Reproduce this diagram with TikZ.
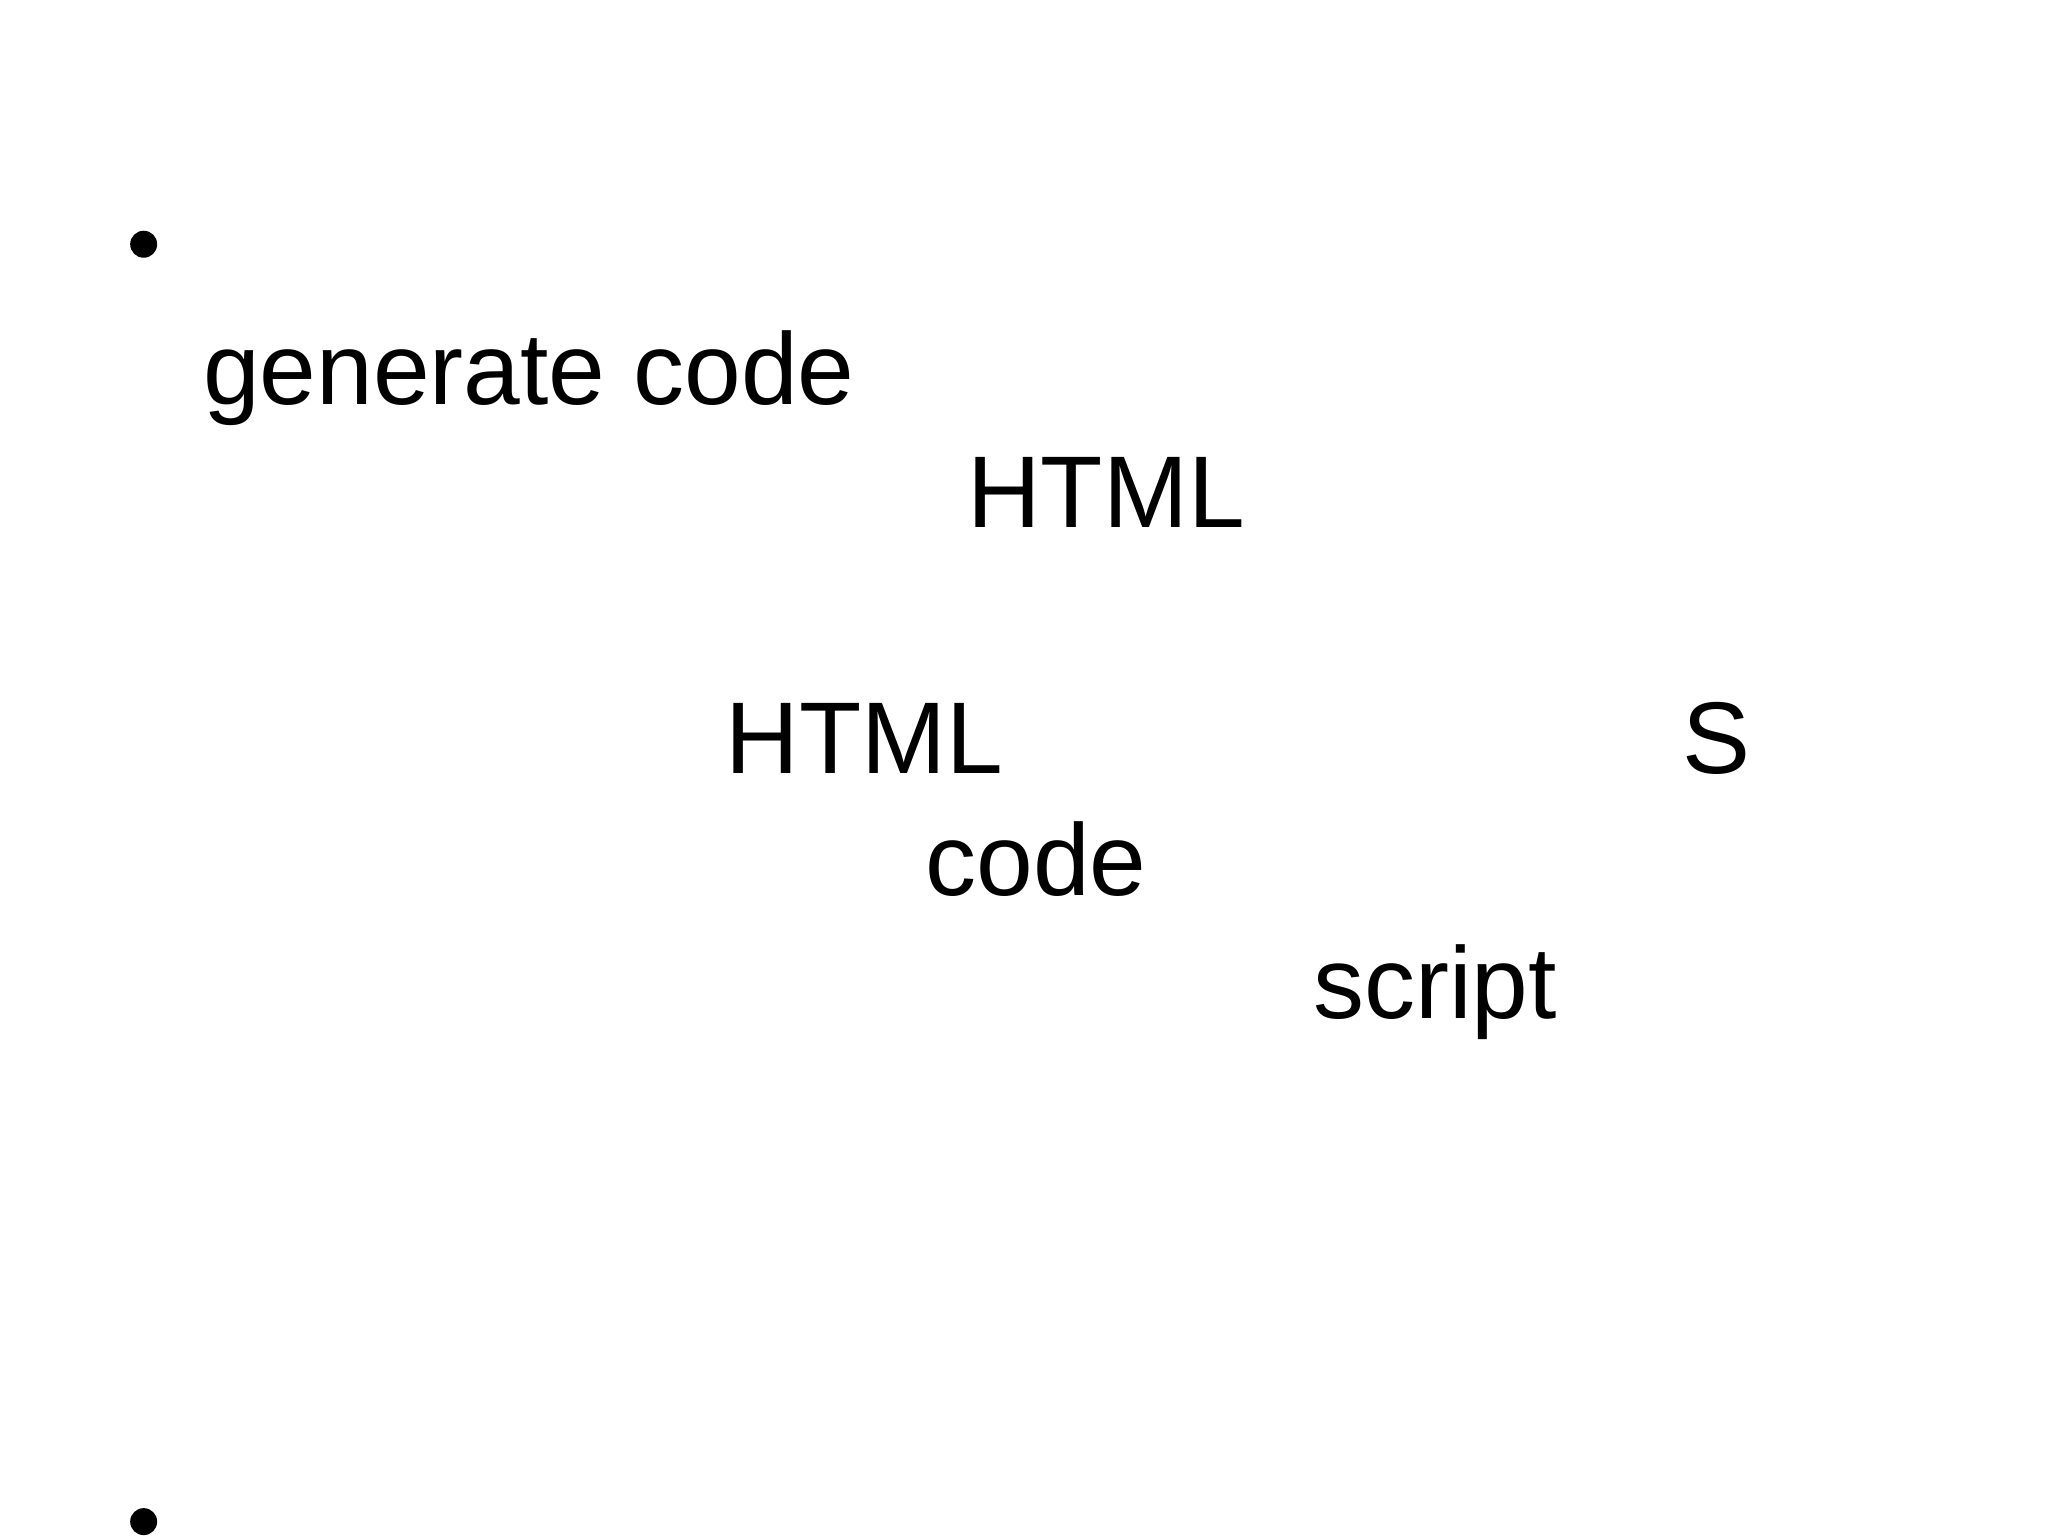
\documentclass[tikz,border=0pt]{standalone}
\usepackage{fontspec}
\setmainfont{Liberation Sans}
\begin{document}
\begin{tikzpicture}[x=0.01306cm,y=-0.01306cm,
  lbl/.style={anchor=base west,inner sep=0pt,font=\fontsize{29}{35}\selectfont},
  bul/.style={circle,fill=black,inner sep=0pt,minimum size=0.27cm}]
\useasboundingbox (0,0) rectangle (1568,1176);
\node[bul] (b1) at (110,187) {};
\node[bul] (b2) at (110,1165) {};
\node[lbl] (t1) at (155,310) {generate code};
\node[lbl] (t2) at (740,404) {HTML};
\node[lbl] (t3) at (555,592) {HTML};
\node[lbl] (t4) at (1288,592) {S};
\node[lbl] (t5) at (708,686) {code};
\node[lbl] (t6) at (1005,780) {script};
\end{tikzpicture}
\end{document}
